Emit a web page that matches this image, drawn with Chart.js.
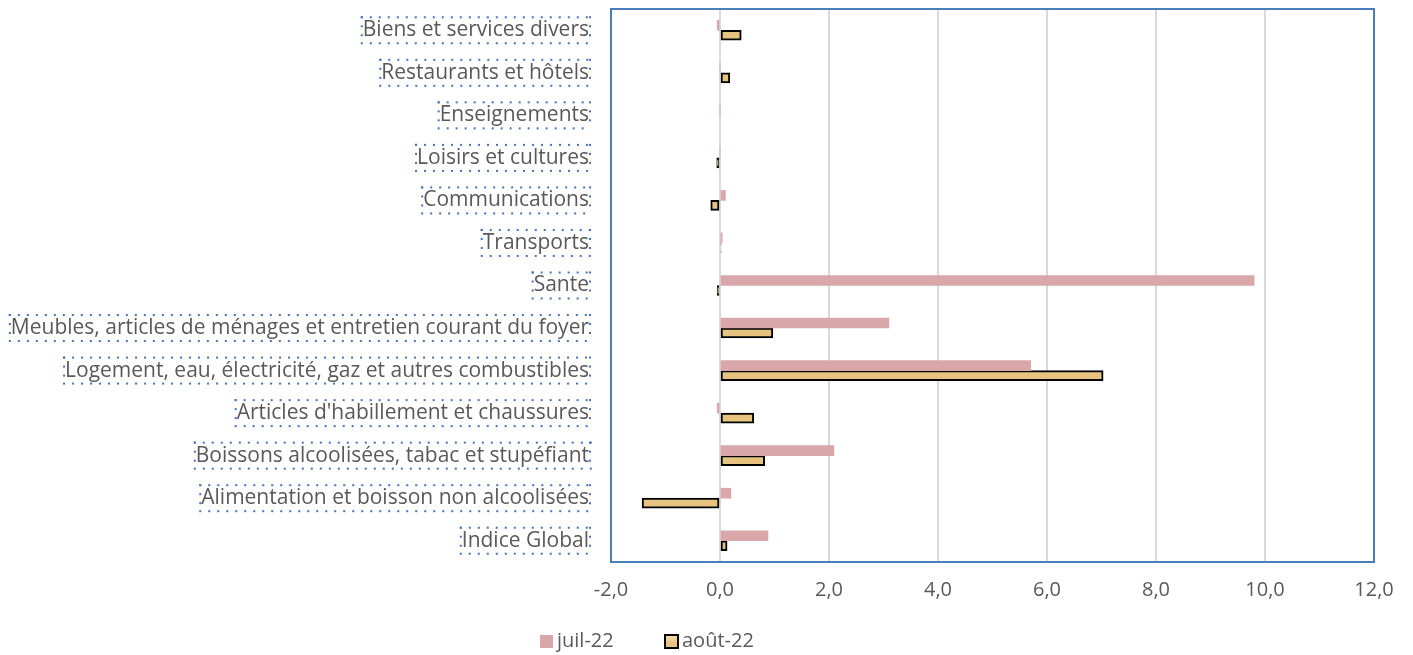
<!DOCTYPE html>
<html>
<head>
<meta charset="utf-8">
<script src="https://cdn.jsdelivr.net/npm/chart.js@4.4.1/dist/chart.umd.min.js"></script>
<style>
  html, body { margin: 0; padding: 0; background: #ffffff; }
  #wrap { width: 1413px; height: 655px; }
</style>
</head>
<body>
<div id="wrap"><canvas id="chart" width="1413" height="655"></canvas></div>
<script>
// categories, top to bottom as they appear
const categories = [
    'Biens et services divers',
    'Restaurants et hôtels',
    'Enseignements',
    'Loisirs et cultures',
    'Communications',
    'Transports',
    'Sante',
    'Meubles, articles de ménages et entretien courant du foyer',
    'Logement, eau, électricité, gaz et autres combustibles',
    "Articles d'habillement et chaussures",
    'Boissons alcoolisées, tabac et stupéfiant',
    'Alimentation et boisson non alcoolisées',
    'Indice Global'
];

const juil22 = [-0.05, 0.0, 0.0, 0.0, 0.1, 0.04, 9.8, 3.1, 5.7, -0.05, 2.09, 0.2, 0.88];
const aout22 = [0.39, 0.18, 0.0, -0.06, -0.17, 0.02, -0.05, 0.97, 7.03, 0.62, 0.82, -1.43, 0.13];

const seriesNames = ['juil-22', 'août-22'];

const FONT = "'Open Sans', sans-serif";
const TEXT = '#595959';
const PINK = '#d9a7a9';

// tan fill with a soft vertical shading, close to the original texture
function tanFill(ctx) {
    const g = ctx.createLinearGradient(0, 0, 0, 8);
    g.addColorStop(0, '#f3deaf');
    g.addColorStop(1, '#e6c47f');
    return g;
}

// blue frame around the plot area
const plotFrame = {
    id: 'plotFrame',
    afterDatasetsDraw(chart) {
        const { ctx, chartArea: a } = chart;
        ctx.save();
        ctx.strokeStyle = '#4a7ebb';
        ctx.lineWidth = 2;
        ctx.strokeRect(a.left, a.top, a.right - a.left, a.bottom - a.top);
        ctx.restore();
    }
};

// dotted blue boxes around the category labels
const labelBoxes = {
    id: 'labelBoxes',
    afterDraw(chart) {
        const { ctx } = chart;
        const y = chart.scales.y;
        ctx.save();
        ctx.font = '21px ' + FONT;
        ctx.fillStyle = '#4472c4';
        const right = y.right - 22;
        y.ticks.forEach((t, i) => {
            const cy = y.getPixelForTick(i);
            const w = ctx.measureText(categories[i]).width;
            const left = right - w - 2;
            for (let x = left; x <= right + 1; x += 9) {
                ctx.fillRect(x, cy - 14, 2, 2);
                ctx.fillRect(x, cy + 12, 2, 2);
            }
            for (let yy = cy - 14; yy <= cy + 12; yy += 9) {
                ctx.fillRect(left, yy, 2, 2);
                ctx.fillRect(right, yy, 2, 2);
            }
        });
        ctx.restore();
    }
};

// legend drawn like the original: small squares, tight text, centred under the chart
const bottomLegend = {
    id: 'bottomLegend',
    afterDraw(chart) {
        const { ctx } = chart;
        const cy = 641;
        const items = [
            { x: 540, text: seriesNames[0], fill: PINK, stroke: null },
            { x: 665, text: seriesNames[1], fill: tanFill(ctx), stroke: '#000000' }
        ];
        ctx.save();
        ctx.font = '20px ' + FONT;
        ctx.textBaseline = 'middle';
        ctx.fillStyle = TEXT;
        items.forEach(it => {
            ctx.save();
            ctx.translate(it.x, cy - 6);
            ctx.fillStyle = it.fill;
            ctx.fillRect(0, 0, 13, 13);
            if (it.stroke) {
                ctx.strokeStyle = it.stroke;
                ctx.lineWidth = 2;
                ctx.strokeRect(0, 0, 13, 13);
            }
            ctx.restore();
            ctx.fillText(it.text, it.x + 17, cy);
        });
        ctx.restore();
    }
};

new Chart(document.getElementById('chart'), {
    type: 'bar',
    data: {
        labels: categories,
        datasets: [{
            label: seriesNames[0],
            data: juil22,
            backgroundColor: PINK,
            borderWidth: 0,
            barThickness: 10
        }, {
            label: seriesNames[1],
            data: aout22,
            backgroundColor: (c) => tanFill(c.chart.ctx),
            borderColor: '#000000',
            borderWidth: 2,
            borderSkipped: false,
            barThickness: 10
        }]
    },
    options: {
        indexAxis: 'y',
        responsive: false,
        animation: false,
        layout: { padding: { left: 0, right: 39, top: 9, bottom: 37 } },
        scales: {
            x: {
                min: -2,
                max: 12,
                ticks: {
                    stepSize: 2,
                    color: TEXT,
                    font: { family: FONT, size: 20 },
                    padding: 16,
                    callback: (v) => v.toFixed(1).replace('.', ',')
                },
                grid: { color: '#d9d9d9', lineWidth: 2, drawTicks: false },
                border: { display: false }
            },
            y: {
                ticks: {
                    color: TEXT,
                    font: { family: FONT, size: 21 },
                    padding: 22
                },
                grid: { display: false, drawTicks: false },
                border: { display: false },
                afterFit(scale) {
                    scale.width = 611;
                    scale.paddingTop = 0;
                    scale.paddingBottom = 0;
                }
            }
        },
        plugins: {
            legend: { display: false },
            tooltip: { enabled: false }
        }
    },
    plugins: [plotFrame, labelBoxes, bottomLegend]
});
</script>
</body>
</html>
